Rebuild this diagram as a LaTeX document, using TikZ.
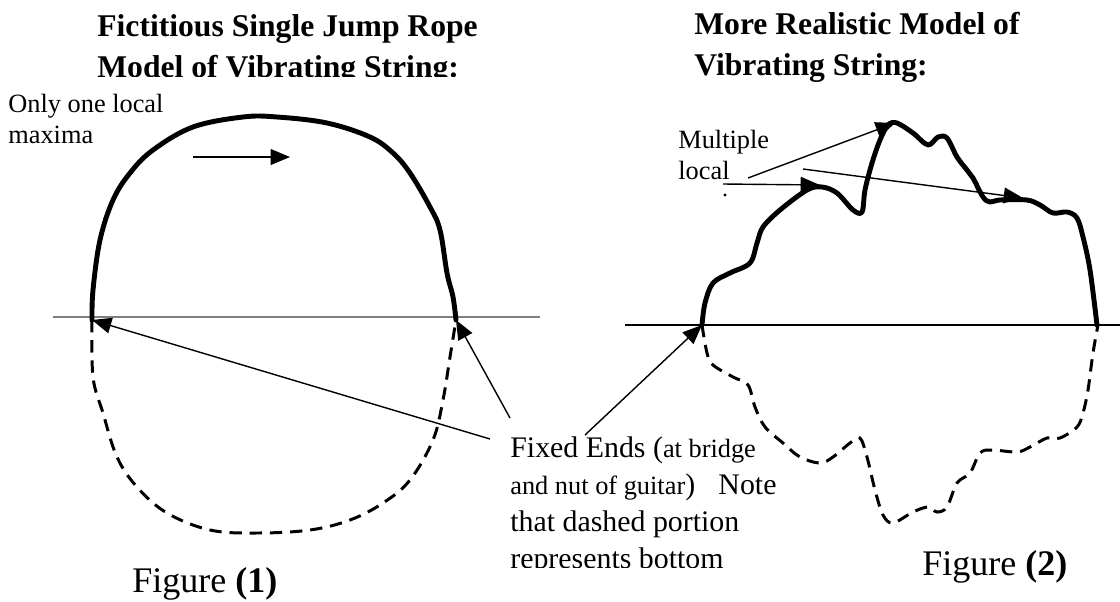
\documentclass[tikz,border=0pt]{standalone}
\usepackage{fontspec}
\setmainfont{Liberation Serif}
\usetikzlibrary{arrows.meta}

\begin{document}
\begin{tikzpicture}[x=0.02cm, y=-0.02cm,
  rope/.style={line width=2.8pt, line join=round, line cap=round},
  lower/.style={line width=1.7pt, dash pattern=on 7pt off 4.5pt},
  arrow/.style={-{Triangle[length=11pt, width=9pt]}, line width=0.8pt},
  axis/.style={line width=0.6pt},
  title/.style={font=\bfseries\fontsize{18}{23}\selectfont, align=left, anchor=base west, inner sep=0pt},
  note/.style={font=\fontsize{15}{17.5}\selectfont, align=left, anchor=base west, inner sep=0pt},
  bignote/.style={font=\fontsize{17}{21}\selectfont, align=left, anchor=base west, inner sep=0pt},
  figlabel/.style={font=\fontsize{20.5}{24}\selectfont, anchor=base west, inner sep=0pt}
]
 \useasboundingbox (0,0) rectangle (1120,602);

 % Titles (anchored at the baseline of their last line)
 \begin{scope}
  \clip (0,0) rectangle (560,76);
  \node[title] (titleA) at (97,77) {Fictitious Single Jump Rope\\Model of Vibrating String:};
 \end{scope}
 \node[title] (titleB) at (694,75) {More Realistic Model of\\Vibrating String:};

 % Figure (1): single jump rope
 \coordinate (lfixL) at (92,320);
 \coordinate (lfixR) at (456,320);
 \draw[axis, gray] (53,317) -- (540,317);
 \draw[rope] plot[smooth, tension=0.6] coordinates {(92,320) (93,290) (100,240) (113,200) (130,173)
   (153,150) (193,127) (243,117) (277,117) (327,123) (370,137) (393,153) (410,173) (430,207)
   (440,230) (447,273) (453,297) (456,320)};
 \draw[lower] plot[smooth, tension=0.6] coordinates {(92,320) (93,377) (103,413) (117,457) (137,487)
   (167,513) (210,530) (257,533) (310,530) (350,520) (383,503) (410,480) (433,440) (443,400)
   (450,357) (456,320)};
 \coordinate (dirA) at (193,157);
 \coordinate (dirB) at (290,157);
 \draw[arrow] (dirA) -- (dirB);
 \node[note] (onemax) at (8,143) {Only one local\\maxima};
 \node[figlabel] (figA) at (132,592) {Figure \textbf{(1)}};

 % Figure (2): realistic string
 \coordinate (rfixL) at (702,325);
 \coordinate (rfixR) at (1097,325);
 \draw[axis] (625,325) -- (1120,325);
 \draw[rope] plot[smooth, tension=0.55] coordinates {(702,325) (705,303) (713,283) (730,273) (750,263)
   (757,243) (763,227) (780,210) (807,190) (822,187) (837,193) (853,210) (862,212) (865,190)
   (872,163) (880,140) (888,125) (897,123) (913,133) (928,145) (938,137) (947,138) (957,157)
   (967,170) (973,178) (983,197) (990,202) (1000,200) (1027,200) (1040,205) (1053,213)
   (1067,212) (1077,218) (1083,237) (1090,270) (1097,325)};
 \draw[lower] plot[smooth, tension=0.55] coordinates {(702,325) (707,353) (713,365) (733,377) (748,385)
   (755,407) (765,427) (783,443) (800,457) (820,463) (833,457) (850,443) (860,438) (867,457)
   (875,490) (883,515) (893,523) (913,512) (928,507) (937,512) (947,507) (957,483) (970,473)
   (980,453) (992,450) (1017,452) (1030,447) (1047,438) (1060,438) (1077,427) (1083,413)
   (1088,390) (1093,353) (1098,325)};
 \node[note] (multi) at (678,179) {Multiple\\local};
 \node[circle, fill, inner sep=0.7pt] (dot) at (725,195) {};
 \coordinate (maxA) at (820,185);
 \coordinate (maxB) at (895,123);
 \coordinate (maxC) at (1023,198);
 \coordinate (mulA) at (723,184);
 \coordinate (mulB) at (748,178);
 \coordinate (mulC) at (803,169);
 \draw[arrow] (mulA) -- (maxA);
 \draw[arrow] (mulB) -- (maxB);
 \draw[arrow] (mulC) -- (maxC);
 \node[figlabel] (figB) at (922,575) {Figure \textbf{(2)}};

 % Fixed ends note
 \begin{scope}
  \clip (480,400) rectangle (820,567);
  \node[bignote] (fixed) at (510,568) {Fixed Ends ({\fontsize{15}{21}\selectfont at bridge}\\
   {\fontsize{15}{21}\selectfont and nut of guitar})\hspace{9pt} Note\\
   that dashed portion\\represents bottom};
 \end{scope}
 \coordinate (fixA) at (490,439);
 \coordinate (fixB) at (510,418);
 \coordinate (fixC) at (585,435);
 \draw[arrow] (fixA) -- (lfixL);
 \draw[arrow] (fixB) -- (lfixR);
 \draw[arrow] (fixC) -- (rfixL);
\end{tikzpicture}
\end{document}
